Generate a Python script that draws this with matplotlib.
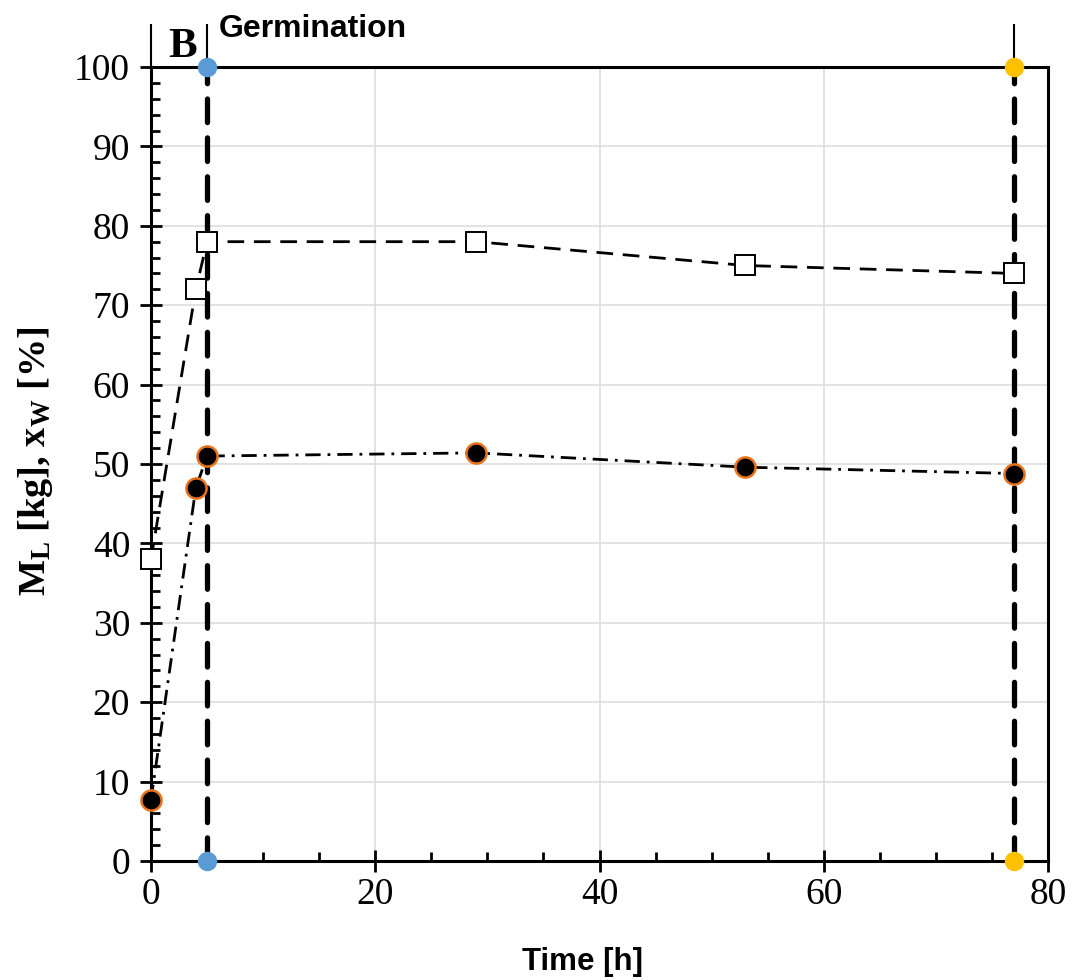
import matplotlib
matplotlib.use("Agg")
import matplotlib.pyplot as plt
from matplotlib.ticker import MultipleLocator

# Daten aus dem Diagramm
time_sq = [0, 4, 5, 29, 53, 77]
ml_kg = [38, 72, 78, 78, 75, 74]          # offene Quadrate, gestrichelt
time_ci = [0, 4, 5, 29, 53, 77]
xw_pct = [7.7, 47, 51, 51.4, 49.6, 48.8]  # schwarze Kreise, Strich-Punkt

phase_x = [5, 77]                          # Keimung Start / Ende
phase_colors = ['#5B9BD5', '#FFC000']
phase_y = [0, 100]

x_ticks = [0, 20, 40, 60, 80]
y_ticks = [0, 10, 20, 30, 40, 50, 60, 70, 80, 90, 100]

plt.rcParams['mathtext.fontset'] = 'custom'
plt.rcParams['mathtext.rm'] = 'Liberation Serif:bold'
plt.rcParams['mathtext.bf'] = 'Liberation Serif:bold'
plt.rcParams['mathtext.it'] = 'Liberation Serif:bold'
plt.rcParams['lines.scale_dashes'] = False

fig = plt.figure(figsize=(10.75, 9.8), dpi=100)
ax = fig.add_axes([151 / 1075, 119 / 980, 897 / 1075, 794 / 980])

# Gitter
ax.set_axisbelow(True)
ax.grid(True, color='#dddddd', lw=1.2)

# Keimungsphase: dicke gestrichelte Linien
for px, pc in zip(phase_x, phase_colors):
    ax.plot([px, px], phase_y, color='black', lw=3.8, dashes=(17, 11),
            solid_capstyle='round', dash_capstyle='round', zorder=3)
    ax.plot([px, px], [100, 105.3], color='black', lw=1.5, clip_on=False, zorder=3)
    ax.plot([px, px], phase_y, 'o', color=pc, ms=14, mec='none',
            clip_on=False, zorder=6)
ax.plot([0, 0], [100, 105.3], color='black', lw=1.5, clip_on=False)

# Messreihen
ax.plot(time_sq, ml_kg, color='black', lw=2.0, dashes=(12, 7),
        marker='s', ms=15, mfc='white', mec='black', mew=1.4, zorder=4,
        clip_on=False)
ax.plot(time_ci, xw_pct, color='black', lw=2.0, dashes=(11, 5, 2, 5),
        marker='o', ms=14.5, mfc='black', mec='#E8731C', mew=1.8, zorder=5,
        clip_on=False)

ax.set_xlim(0, 80)
ax.set_ylim(0, 100)
ax.set_xticks(x_ticks)
ax.set_yticks(y_ticks)
ax.xaxis.set_minor_locator(MultipleLocator(5))
ax.yaxis.set_minor_locator(MultipleLocator(2))

for s in ax.spines.values():
    s.set_linewidth(2.2)

ax.tick_params(which='major', direction='inout', length=16, width=2,
               labelsize=27, pad=7)
ax.tick_params(axis='x', which='major', pad=4)
ax.tick_params(which='minor', direction='in', length=6.5, width=2)
for lbl in ax.get_xticklabels() + ax.get_yticklabels():
    lbl.set_fontfamily('Liberation Serif')

fig.text(36 / 1075, 1 - 461 / 980, r'$\mathbf{M_L}$ [kg], $\mathbf{x_W}$ [%]',
         rotation=90, ha='center', va='center', fontsize=27.5,
         fontweight='bold', fontfamily='Liberation Serif')
fig.text(582 / 1075, 1 - 962 / 980, 'Time [h]', ha='center', va='center',
         fontsize=22.5, fontweight='bold', fontfamily='Liberation Sans')
fig.text(183 / 1075, 1 - 47 / 980, 'B', ha='center', va='center',
         fontsize=31, fontweight='bold', fontfamily='Liberation Serif')
fig.text(219 / 1075, 1 - 29 / 980, 'Germination', ha='left', va='center',
         fontsize=23, fontweight='bold', fontfamily='Liberation Sans')

fig.savefig('out.png', dpi=100)
